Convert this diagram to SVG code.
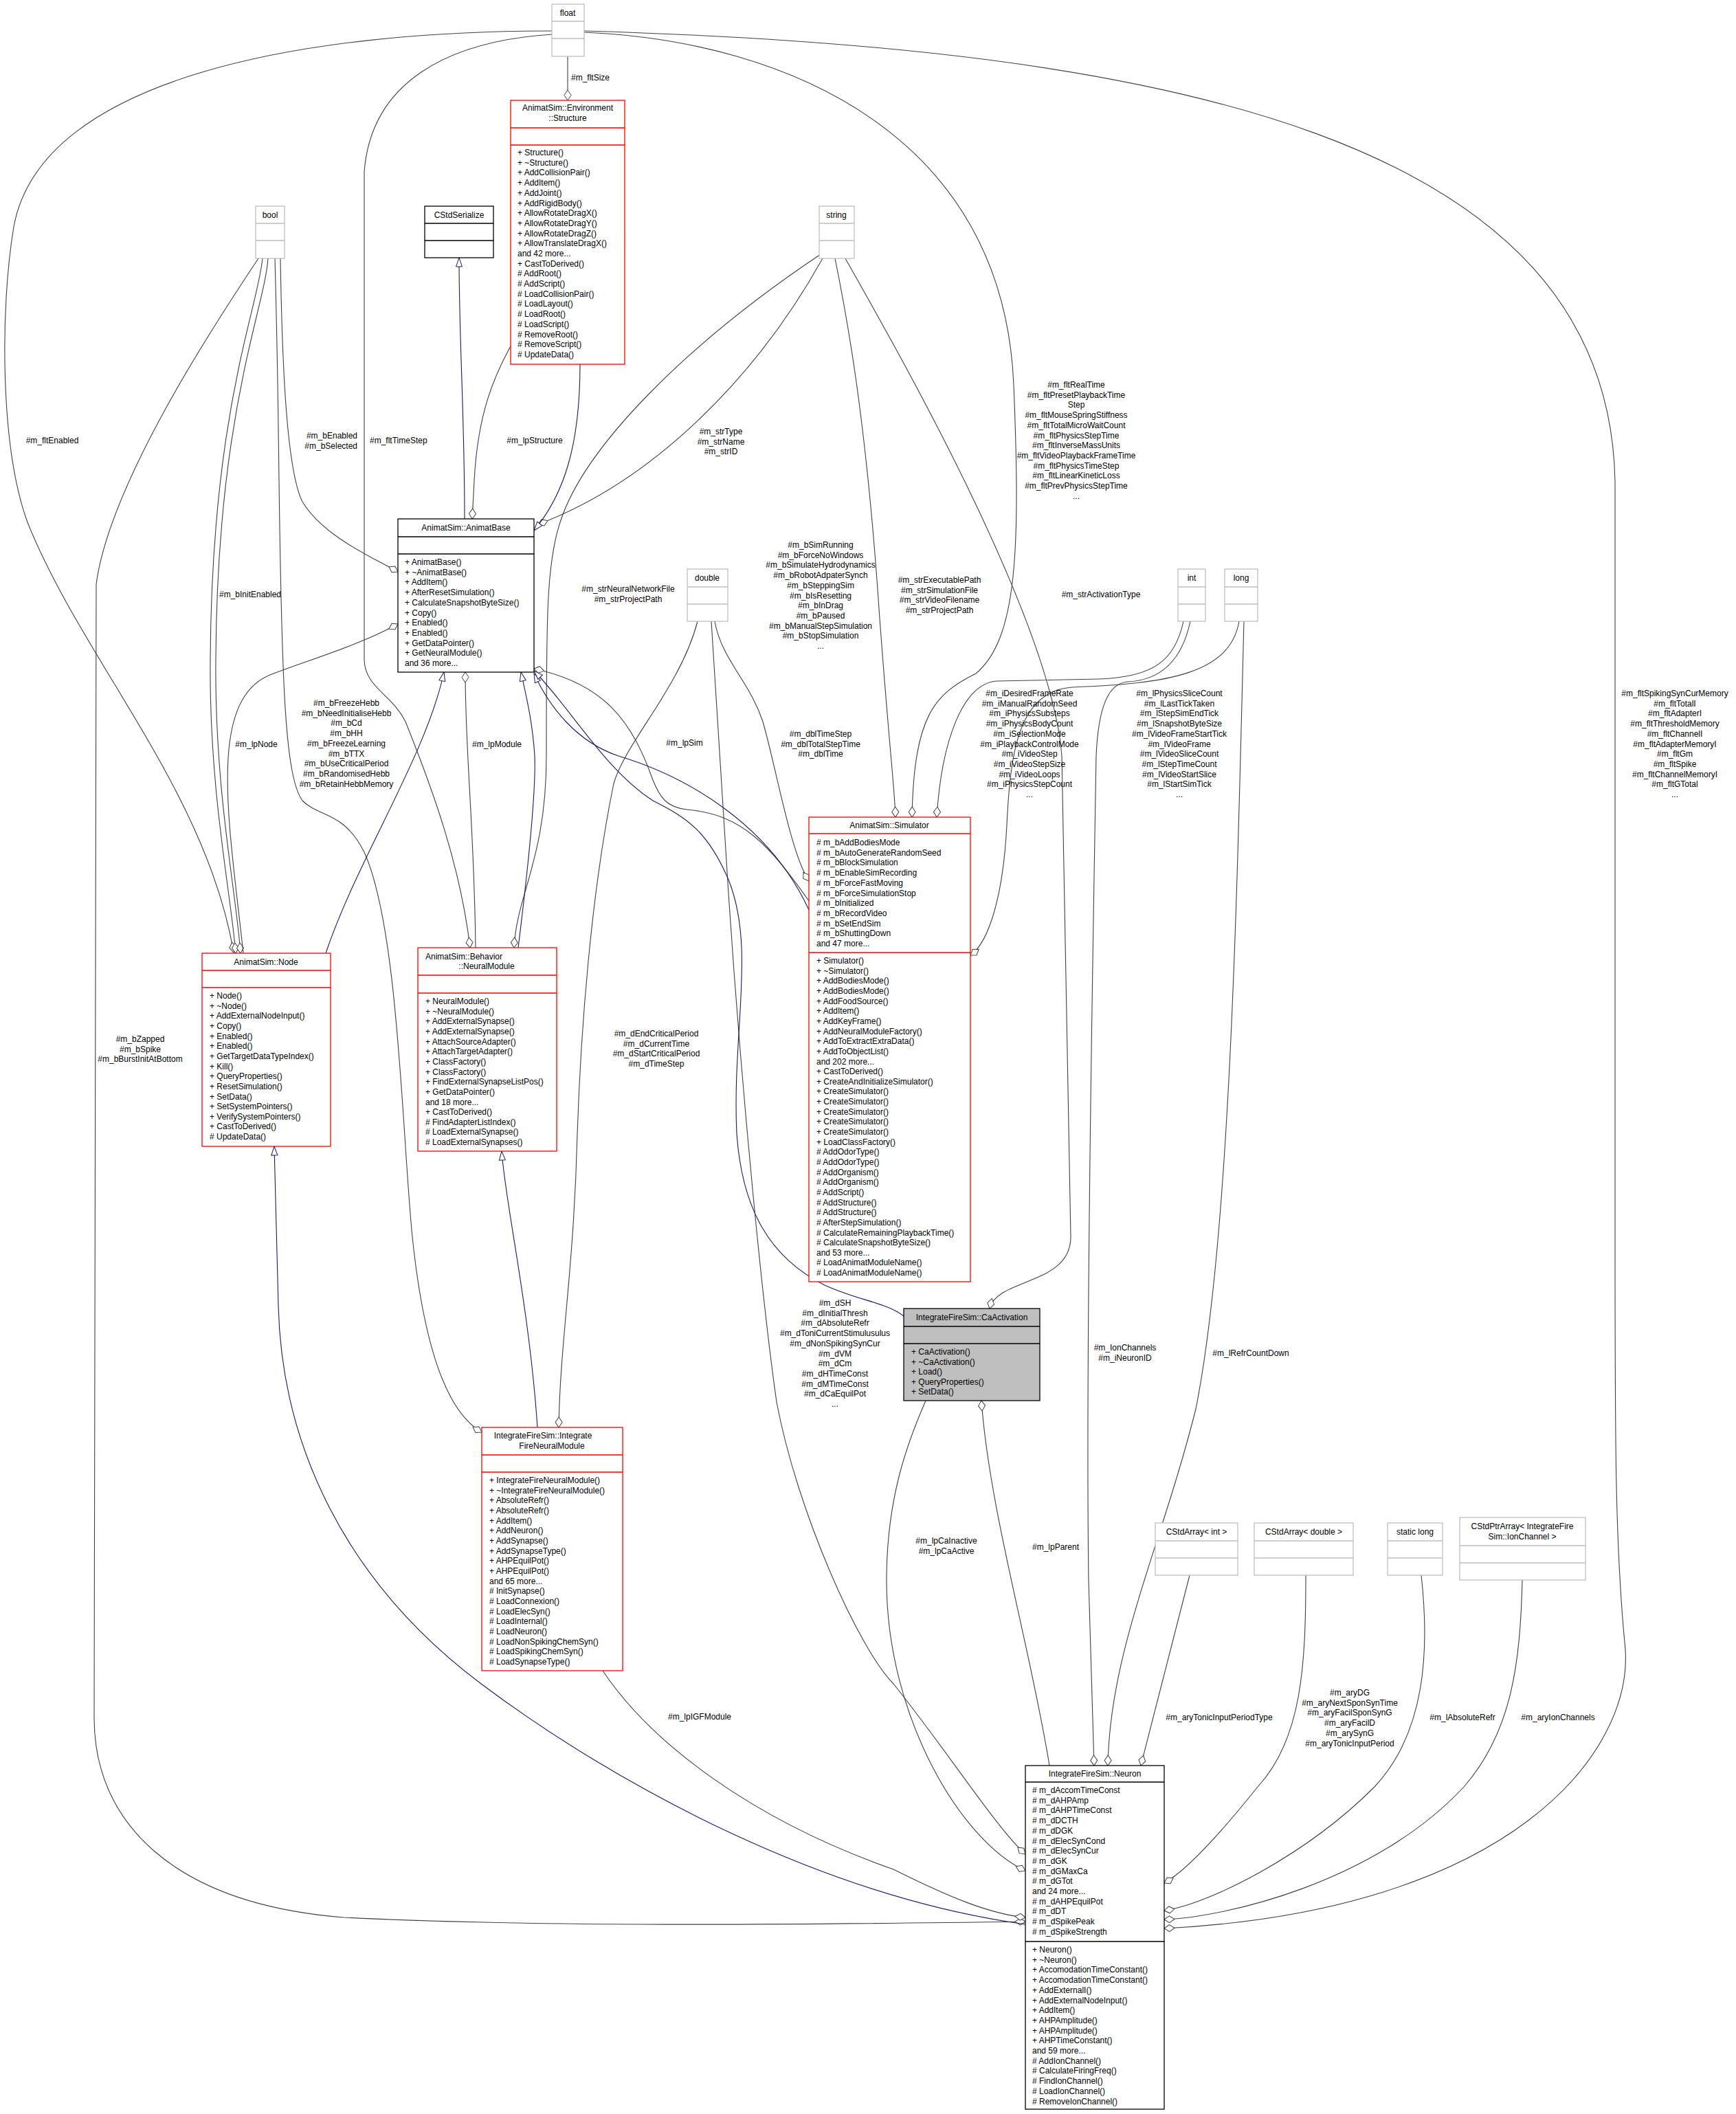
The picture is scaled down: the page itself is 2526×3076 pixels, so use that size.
<svg xmlns="http://www.w3.org/2000/svg" width="2526" height="3076" viewBox="0 0 2526 3076">
<style>
text{font-family:"Liberation Sans",Arial,sans-serif;font-size:12px;fill:#000}
.c{text-anchor:middle}
.r{text-anchor:end}
.red{fill:#fff;stroke:#ff0000;stroke-width:1.3}
.blk{fill:#fff;stroke:#000;stroke-width:1.3}
.gry{fill:#fff;stroke:#bfbfbf;stroke-width:1.3}
.sel{fill:#bfbfbf;stroke:#000;stroke-width:1.3}
.e{fill:none;stroke:#404040;stroke-width:1.1;marker-end:url(#dia)}
.b{fill:none;stroke:#191970;stroke-width:1.1;marker-end:url(#tri)}
</style>
<defs>
<marker id="dia" viewBox="0 0 17 12" refX="16" refY="6" markerWidth="17" markerHeight="12" markerUnits="userSpaceOnUse" orient="auto"><path d="M1,6 L8.5,1 L16,6 L8.5,11 Z" fill="#fff" stroke="#404040"/></marker>
<marker id="tri" viewBox="0 0 15 11" refX="14" refY="5.5" markerWidth="15" markerHeight="11" markerUnits="userSpaceOnUse" orient="auto"><path d="M1,1 L14,5.5 L1,10 Z" fill="#fff" stroke="#191970"/></marker>
</defs>
<rect width="2526" height="3076" fill="#fff"/>

<g id="connectors">
<path class="e" d="M826,82 L826,146"/>
<path class="e" d="M803,45 C450,45 60,110 20,330 C0,450 0,650 40,760 C120,960 300,1150 340,1386"/>
<path class="e" d="M803,50 C650,60 540,120 530,250 L530,960 C531,1000 570,1010 590,1050 C630,1150 670,1260 684,1379"/>
<path class="e" d="M850,47 C1150,60 1460,200 1475,560 C1485,800 1480,930 1420,980 C1360,1010 1330,1040 1327,1189"/>
<path class="e" d="M850,45 C1700,70 2340,200 2350,700 L2350,1800 C2350,2100 2350,2250 2365,2400 C2375,2550 2200,2780 1694,2806"/>
<path class="e" d="M382,376 C375,450 308,600 306,960 C304,1150 336,1300 343,1387"/>
<path class="e" d="M390,376 C385,450 316,600 314,960 C312,1150 344,1300 350,1387"/>
<path class="e" d="M408,376 C410,500 415,680 440,730 C470,780 540,810 579,832"/>
<path class="e" d="M400,376 C402,450 404,520 406,700 C410,1000 415,1130 440,1165 C465,1190 500,1180 530,1240 C580,1350 585,1650 600,1800 C620,1990 660,2060 701,2084"/>
<path class="e" d="M376,376 C320,460 160,700 140,850 L137,2500 C137,2650 250,2770 500,2790 C800,2805 1200,2800 1492,2796"/>
<path class="e" d="M1230,376 C1300,500 1530,900 1545,1100 L1558,1800 C1558,1870 1450,1860 1440,1904"/>
<path class="e" d="M1215,376 C1230,450 1260,600 1280,900 C1295,1100 1302,1150 1303,1189"/>
<path class="e" d="M1197,376 C1100,550 950,700 783,763"/>
<path class="e" d="M1194,370 C1000,500 850,650 815,760 C795,820 795,900 795,1100 C795,1250 752,1300 748,1379"/>
<path class="e" d="M745,500 C720,545 695,600 690,700 L687,755"/>
<path class="e" d="M354,1387 C334,1200 300,1020 393,982 C450,960 520,940 579,908"/>
<path class="e" d="M692,1379 C690,1200 677,1100 677,978"/>
<path class="e" d="M1177,1311 C1120,1230 1080,1185 1000,1178 C970,1175 960,1160 950,1135 C920,1050 880,995 777,973"/>
<path class="e" d="M1040,904 C1050,960 1090,990 1110,1050 C1130,1120 1150,1240 1177,1282"/>
<path class="e" d="M1015,904 C990,1000 910,1080 893,1140 C860,1300 845,1500 840,1650 C835,1850 815,1950 813,2077"/>
<path class="e" d="M1035,904 C1040,1000 1048,1100 1060,1300 C1080,1600 1110,1900 1130,2040 C1160,2200 1250,2400 1300,2450 C1380,2550 1450,2660 1492,2698"/>
<path class="e" d="M1722,904 C1710,960 1680,985 1600,988 L1450,991 C1400,995 1370,1080 1363,1189"/>
<path class="e" d="M1732,904 C1720,960 1690,990 1640,992 C1612,995 1598,1030 1595,1100 C1588,1500 1580,2000 1584,2300 L1592,2569"/>
<path class="e" d="M1803,904 C1790,980 1700,995 1560,1000 C1480,1005 1470,1100 1465,1200 C1460,1300 1440,1370 1412,1390"/>
<path class="e" d="M1810,904 C1800,1300 1790,1800 1740,2050 C1690,2250 1615,2400 1612,2569"/>
<path class="e" d="M1347,2038 C1320,2100 1290,2180 1290,2300 C1290,2500 1400,2680 1492,2722"/>
<path class="e" d="M1527,2569 C1500,2400 1440,2200 1428,2038"/>
<path class="e" d="M877,2431 C950,2540 1100,2650 1300,2720 C1380,2760 1440,2785 1492,2790"/>
<path class="e" d="M1731,2292 L1660,2569"/>
<path class="e" d="M1900,2292 C1900,2420 1895,2530 1830,2600 C1790,2650 1730,2720 1694,2740"/>
<path class="e" d="M2068,2292 C2080,2400 2075,2520 2000,2600 C1900,2700 1760,2770 1694,2780"/>
<path class="e" d="M2215,2299 C2212,2420 2200,2520 2130,2600 C2000,2740 1780,2790 1694,2793"/>
<path class="b" d="M676,755 C676,600 668,500 668,375"/>
<path class="b" d="M844,530 C844,650 820,720 777,772"/>
<path class="b" d="M474,1387 C520,1250 620,1100 646,978"/>
<path class="b" d="M754,1379 C770,1250 780,1150 778,1100 C775,1050 765,1010 758,978"/>
<path class="b" d="M1177,1324 C1120,1200 1000,1130 900,1100 C840,1080 800,1030 777,980"/>
<path class="b" d="M1315,1915 C1290,1895 1250,1893 1200,1870 C1120,1830 1080,1760 1072,1650 C1065,1500 1100,1380 1060,1280 C1030,1210 1000,1190 950,1165 C880,1120 830,1030 777,976"/>
<path class="b" d="M1492,2800 C1200,2760 900,2600 700,2450 C500,2300 410,2100 405,1900 L399,1668"/>
<path class="b" d="M782,2077 C770,1900 735,1750 730,1675"/>

<text x="831" y="117">#m_fltSize</text>
<text class="c" x="76" y="645">#m_fltEnabled</text>
<text x="538" y="645">#m_fltTimeStep</text>
<text class="r" x="520" y="638">#m_bEnabled<tspan x="520" dy="14.7">#m_bSelected</tspan></text>
<text class="c" x="778" y="645">#m_lpStructure</text>
<text class="c" x="1049" y="632">#m_strType<tspan x="1049" dy="14.7">#m_strName</tspan><tspan x="1049" dy="14.7">#m_strID</tspan></text>
<text class="c" x="364" y="869">#m_bInitEnabled</text>
<text class="c" x="914" y="861">#m_strNeuralNetworkFile<tspan x="914" dy="14.7">#m_strProjectPath</tspan></text>
<text class="c" x="504" y="1027">#m_bFreezeHebb<tspan x="504" dy="14.7">#m_bNeedInitialiseHebb</tspan><tspan x="504" dy="14.7">#m_bCd</tspan><tspan x="504" dy="14.7">#m_bHH</tspan><tspan x="504" dy="14.7">#m_bFreezeLearning</tspan><tspan x="504" dy="14.7">#m_bTTX</tspan><tspan x="504" dy="14.7">#m_bUseCriticalPeriod</tspan><tspan x="504" dy="14.7">#m_bRandomisedHebb</tspan><tspan x="504" dy="14.7">#m_bRetainHebbMemory</tspan></text>
<text class="c" x="373" y="1087">#m_lpNode</text>
<text class="c" x="723" y="1087">#m_lpModule</text>
<text class="c" x="996" y="1085">#m_lpSim</text>
<text class="c" x="204" y="1516">#m_bZapped<tspan x="204" dy="14.7">#m_bSpike</tspan><tspan x="204" dy="14.7">#m_bBurstInitAtBottom</tspan></text>
<text class="c" x="1566" y="564">#m_fltRealTime<tspan x="1566" dy="14.7">#m_fltPresetPlaybackTime</tspan><tspan x="1566" dy="14.7">Step</tspan><tspan x="1566" dy="14.7">#m_fltMouseSpringStiffness</tspan><tspan x="1566" dy="14.7">#m_fltTotalMicroWaitCount</tspan><tspan x="1566" dy="14.7">#m_fltPhysicsStepTime</tspan><tspan x="1566" dy="14.7">#m_fltInverseMassUnits</tspan><tspan x="1566" dy="14.7">#m_fltVideoPlaybackFrameTime</tspan><tspan x="1566" dy="14.7">#m_fltPhysicsTimeStep</tspan><tspan x="1566" dy="14.7">#m_fltLinearKineticLoss</tspan><tspan x="1566" dy="14.7">#m_fltPrevPhysicsStepTime</tspan><tspan x="1566" dy="14.7">...</tspan></text>
<text class="c" x="1194" y="797">#m_bSimRunning<tspan x="1194" dy="14.7">#m_bForceNoWindows</tspan><tspan x="1194" dy="14.7">#m_bSimulateHydrodynamics</tspan><tspan x="1194" dy="14.7">#m_bRobotAdpaterSynch</tspan><tspan x="1194" dy="14.7">#m_bSteppingSim</tspan><tspan x="1194" dy="14.7">#m_bIsResetting</tspan><tspan x="1194" dy="14.7">#m_bInDrag</tspan><tspan x="1194" dy="14.7">#m_bPaused</tspan><tspan x="1194" dy="14.7">#m_bManualStepSimulation</tspan><tspan x="1194" dy="14.7">#m_bStopSimulation</tspan><tspan x="1194" dy="14.7">...</tspan></text>
<text class="c" x="1367" y="848">#m_strExecutablePath<tspan x="1367" dy="14.7">#m_strSimulationFile</tspan><tspan x="1367" dy="14.7">#m_strVideoFilename</tspan><tspan x="1367" dy="14.7">#m_strProjectPath</tspan></text>
<text class="c" x="1602" y="869">#m_strActivationType</text>
<text class="c" x="1194" y="1072">#m_dblTimeStep<tspan x="1194" dy="14.7">#m_dblTotalStepTime</tspan><tspan x="1194" dy="14.7">#m_dblTime</tspan></text>
<text class="c" x="1498" y="1013">#m_iDesiredFrameRate<tspan x="1498" dy="14.7">#m_iManualRandomSeed</tspan><tspan x="1498" dy="14.7">#m_iPhysicsSubsteps</tspan><tspan x="1498" dy="14.7">#m_iPhysicsBodyCount</tspan><tspan x="1498" dy="14.7">#m_iSelectionMode</tspan><tspan x="1498" dy="14.7">#m_iPlaybackControlMode</tspan><tspan x="1498" dy="14.7">#m_iVideoStep</tspan><tspan x="1498" dy="14.7">#m_iVideoStepSize</tspan><tspan x="1498" dy="14.7">#m_iVideoLoops</tspan><tspan x="1498" dy="14.7">#m_iPhysicsStepCount</tspan><tspan x="1498" dy="14.7">...</tspan></text>
<text class="c" x="1716" y="1013">#m_lPhysicsSliceCount<tspan x="1716" dy="14.7">#m_lLastTickTaken</tspan><tspan x="1716" dy="14.7">#m_lStepSimEndTick</tspan><tspan x="1716" dy="14.7">#m_lSnapshotByteSize</tspan><tspan x="1716" dy="14.7">#m_lVideoFrameStartTick</tspan><tspan x="1716" dy="14.7">#m_lVideoFrame</tspan><tspan x="1716" dy="14.7">#m_lVideoSliceCount</tspan><tspan x="1716" dy="14.7">#m_lStepTimeCount</tspan><tspan x="1716" dy="14.7">#m_lVideoStartSlice</tspan><tspan x="1716" dy="14.7">#m_lStartSimTick</tspan><tspan x="1716" dy="14.7">...</tspan></text>
<text class="c" x="2437" y="1013">#m_fltSpikingSynCurMemory<tspan x="2437" dy="14.7">#m_fltTotalI</tspan><tspan x="2437" dy="14.7">#m_fltAdapterI</tspan><tspan x="2437" dy="14.7">#m_fltThresholdMemory</tspan><tspan x="2437" dy="14.7">#m_fltChannelI</tspan><tspan x="2437" dy="14.7">#m_fltAdapterMemoryI</tspan><tspan x="2437" dy="14.7">#m_fltGm</tspan><tspan x="2437" dy="14.7">#m_fltSpike</tspan><tspan x="2437" dy="14.7">#m_fltChannelMemoryI</tspan><tspan x="2437" dy="14.7">#m_fltGTotal</tspan><tspan x="2437" dy="14.7">...</tspan></text>
<text class="c" x="955" y="1508">#m_dEndCriticalPeriod<tspan x="955" dy="14.7">#m_dCurrentTime</tspan><tspan x="955" dy="14.7">#m_dStartCriticalPeriod</tspan><tspan x="955" dy="14.7">#m_dTimeStep</tspan></text>
<text class="c" x="1215" y="1900">#m_dSH<tspan x="1215" dy="14.7">#m_dInitialThresh</tspan><tspan x="1215" dy="14.7">#m_dAbsoluteRefr</tspan><tspan x="1215" dy="14.7">#m_dToniCurrentStimulusulus</tspan><tspan x="1215" dy="14.7">#m_dNonSpikingSynCur</tspan><tspan x="1215" dy="14.7">#m_dVM</tspan><tspan x="1215" dy="14.7">#m_dCm</tspan><tspan x="1215" dy="14.7">#m_dHTimeConst</tspan><tspan x="1215" dy="14.7">#m_dMTimeConst</tspan><tspan x="1215" dy="14.7">#m_dCaEquilPot</tspan><tspan x="1215" dy="14.7">...</tspan></text>
<text class="c" x="1637" y="1965">#m_IonChannels<tspan x="1637" dy="14.7">#m_iNeuronID</tspan></text>
<text class="c" x="1820" y="1973">#m_lRefrCountDown</text>
<text class="c" x="1377" y="2246">#m_lpCaInactive<tspan x="1377" dy="14.7">#m_lpCaActive</tspan></text>
<text class="c" x="1536" y="2255">#m_lpParent</text>
<text class="c" x="1018" y="2502">#m_lpIGFModule</text>
<text class="c" x="1774" y="2503">#m_aryTonicInputPeriodType</text>
<text class="c" x="1964" y="2467">#m_aryDG<tspan x="1964" dy="14.7">#m_aryNextSponSynTime</tspan><tspan x="1964" dy="14.7">#m_aryFacilSponSynG</tspan><tspan x="1964" dy="14.7">#m_aryFacilD</tspan><tspan x="1964" dy="14.7">#m_arySynG</tspan><tspan x="1964" dy="14.7">#m_aryTonicInputPeriod</tspan></text>
<text class="c" x="2128" y="2503">#m_lAbsoluteRefr</text>
<text class="c" x="2267" y="2503">#m_aryIonChannels</text>
</g>

<g id="float"><rect class="gry" x="803" y="6" width="47" height="76"/><path class="gry" d="M803,31 H850 M803,56 H850"/><text class="c" x="826" y="23">float</text></g>
<g id="bool"><rect class="gry" x="372" y="300" width="42" height="76"/><path class="gry" d="M372,325 H414 M372,350 H414"/><text class="c" x="393" y="317">bool</text></g>
<g id="string"><rect class="gry" x="1192" y="300" width="51" height="76"/><path class="gry" d="M1192,325 H1243 M1192,350 H1243"/><text class="c" x="1217" y="317">string</text></g>
<g id="CStdSerialize"><rect class="blk" x="618" y="300" width="100" height="75"/><path class="blk" d="M618,325 H718 M618,350 H718"/><text class="c" x="668" y="317">CStdSerialize</text></g>
<g id="double"><rect class="gry" x="1000" y="828" width="59" height="76"/><path class="gry" d="M1000,854 H1059 M1000,879 H1059"/><text class="c" x="1029" y="845">double</text></g>
<g id="int"><rect class="gry" x="1714" y="828" width="40" height="76"/><path class="gry" d="M1714,854 H1754 M1714,879 H1754"/><text class="c" x="1734" y="845">int</text></g>
<g id="long"><rect class="gry" x="1782" y="828" width="48" height="76"/><path class="gry" d="M1782,854 H1830 M1782,879 H1830"/><text class="c" x="1806" y="845">long</text></g>

<g id="Structure"><rect class="red" x="743" y="146" width="166" height="384"/><path class="red" d="M743,186 H909 M743,211 H909"/>
<text class="c" x="826" y="161">AnimatSim::Environment<tspan x="826" dy="14.7">::Structure</tspan></text>
<text x="753" y="226">+ Structure()<tspan x="753" dy="14.7">+ ~Structure()</tspan><tspan x="753" dy="14.7">+ AddCollisionPair()</tspan><tspan x="753" dy="14.7">+ AddItem()</tspan><tspan x="753" dy="14.7">+ AddJoint()</tspan><tspan x="753" dy="14.7">+ AddRigidBody()</tspan><tspan x="753" dy="14.7">+ AllowRotateDragX()</tspan><tspan x="753" dy="14.7">+ AllowRotateDragY()</tspan><tspan x="753" dy="14.7">+ AllowRotateDragZ()</tspan><tspan x="753" dy="14.7">+ AllowTranslateDragX()</tspan><tspan x="753" dy="14.7">and 42 more...</tspan><tspan x="753" dy="14.7">+ CastToDerived()</tspan><tspan x="753" dy="14.7"># AddRoot()</tspan><tspan x="753" dy="14.7"># AddScript()</tspan><tspan x="753" dy="14.7"># LoadCollisionPair()</tspan><tspan x="753" dy="14.7"># LoadLayout()</tspan><tspan x="753" dy="14.7"># LoadRoot()</tspan><tspan x="753" dy="14.7"># LoadScript()</tspan><tspan x="753" dy="14.7"># RemoveRoot()</tspan><tspan x="753" dy="14.7"># RemoveScript()</tspan><tspan x="753" dy="14.7"># UpdateData()</tspan></text></g>

<g id="AnimatBase"><rect class="blk" x="579" y="755" width="198" height="223"/><path class="blk" d="M579,781 H777 M579,806 H777"/>
<text class="c" x="678" y="772">AnimatSim::AnimatBase</text>
<text x="589" y="822">+ AnimatBase()<tspan x="589" dy="14.7">+ ~AnimatBase()</tspan><tspan x="589" dy="14.7">+ AddItem()</tspan><tspan x="589" dy="14.7">+ AfterResetSimulation()</tspan><tspan x="589" dy="14.7">+ CalculateSnapshotByteSize()</tspan><tspan x="589" dy="14.7">+ Copy()</tspan><tspan x="589" dy="14.7">+ Enabled()</tspan><tspan x="589" dy="14.7">+ Enabled()</tspan><tspan x="589" dy="14.7">+ GetDataPointer()</tspan><tspan x="589" dy="14.7">+ GetNeuralModule()</tspan><tspan x="589" dy="14.7">and 36 more...</tspan></text></g>

<g id="Simulator"><rect class="red" x="1177" y="1189" width="235" height="676"/><path class="red" d="M1177,1213 H1412 M1177,1386 H1412"/>
<text class="c" x="1294" y="1205">AnimatSim::Simulator</text>
<text x="1188" y="1230"># m_bAddBodiesMode<tspan x="1188" dy="14.7"># m_bAutoGenerateRandomSeed</tspan><tspan x="1188" dy="14.7"># m_bBlockSimulation</tspan><tspan x="1188" dy="14.7"># m_bEnableSimRecording</tspan><tspan x="1188" dy="14.7"># m_bForceFastMoving</tspan><tspan x="1188" dy="14.7"># m_bForceSimulationStop</tspan><tspan x="1188" dy="14.7"># m_bInitialized</tspan><tspan x="1188" dy="14.7"># m_bRecordVideo</tspan><tspan x="1188" dy="14.7"># m_bSetEndSim</tspan><tspan x="1188" dy="14.7"># m_bShuttingDown</tspan><tspan x="1188" dy="14.7">and 47 more...</tspan></text>
<text x="1188" y="1402">+ Simulator()<tspan x="1188" dy="14.65">+ ~Simulator()</tspan><tspan x="1188" dy="14.65">+ AddBodiesMode()</tspan><tspan x="1188" dy="14.65">+ AddBodiesMode()</tspan><tspan x="1188" dy="14.65">+ AddFoodSource()</tspan><tspan x="1188" dy="14.65">+ AddItem()</tspan><tspan x="1188" dy="14.65">+ AddKeyFrame()</tspan><tspan x="1188" dy="14.65">+ AddNeuralModuleFactory()</tspan><tspan x="1188" dy="14.65">+ AddToExtractExtraData()</tspan><tspan x="1188" dy="14.65">+ AddToObjectList()</tspan><tspan x="1188" dy="14.65">and 202 more...</tspan><tspan x="1188" dy="14.65">+ CastToDerived()</tspan><tspan x="1188" dy="14.65">+ CreateAndInitializeSimulator()</tspan><tspan x="1188" dy="14.65">+ CreateSimulator()</tspan><tspan x="1188" dy="14.65">+ CreateSimulator()</tspan><tspan x="1188" dy="14.65">+ CreateSimulator()</tspan><tspan x="1188" dy="14.65">+ CreateSimulator()</tspan><tspan x="1188" dy="14.65">+ CreateSimulator()</tspan><tspan x="1188" dy="14.65">+ LoadClassFactory()</tspan><tspan x="1188" dy="14.65"># AddOdorType()</tspan><tspan x="1188" dy="14.65"># AddOdorType()</tspan><tspan x="1188" dy="14.65"># AddOrganism()</tspan><tspan x="1188" dy="14.65"># AddOrganism()</tspan><tspan x="1188" dy="14.65"># AddScript()</tspan><tspan x="1188" dy="14.65"># AddStructure()</tspan><tspan x="1188" dy="14.65"># AddStructure()</tspan><tspan x="1188" dy="14.65"># AfterStepSimulation()</tspan><tspan x="1188" dy="14.65"># CalculateRemainingPlaybackTime()</tspan><tspan x="1188" dy="14.65"># CalculateSnapshotByteSize()</tspan><tspan x="1188" dy="14.65">and 53 more...</tspan><tspan x="1188" dy="14.65"># LoadAnimatModuleName()</tspan><tspan x="1188" dy="14.65"># LoadAnimatModuleName()</tspan></text></g>

<g id="Node"><rect class="red" x="294" y="1387" width="187" height="281"/><path class="red" d="M294,1412 H481 M294,1437 H481"/>
<text class="c" x="387" y="1404">AnimatSim::Node</text>
<text x="305" y="1453">+ Node()<tspan x="305" dy="14.65">+ ~Node()</tspan><tspan x="305" dy="14.65">+ AddExternalNodeInput()</tspan><tspan x="305" dy="14.65">+ Copy()</tspan><tspan x="305" dy="14.65">+ Enabled()</tspan><tspan x="305" dy="14.65">+ Enabled()</tspan><tspan x="305" dy="14.65">+ GetTargetDataTypeIndex()</tspan><tspan x="305" dy="14.65">+ Kill()</tspan><tspan x="305" dy="14.65">+ QueryProperties()</tspan><tspan x="305" dy="14.65">+ ResetSimulation()</tspan><tspan x="305" dy="14.65">+ SetData()</tspan><tspan x="305" dy="14.65">+ SetSystemPointers()</tspan><tspan x="305" dy="14.65">+ VerifySystemPointers()</tspan><tspan x="305" dy="14.65">+ CastToDerived()</tspan><tspan x="305" dy="14.65"># UpdateData()</tspan></text></g>

<g id="NeuralModule"><rect class="red" x="608" y="1379" width="202" height="296"/><path class="red" d="M608,1419 H810 M608,1445 H810"/>
<text x="619" y="1396">AnimatSim::Behavior</text><text class="c" x="708" y="1410">::NeuralModule</text>
<text x="619" y="1461">+ NeuralModule()<tspan x="619" dy="14.65">+ ~NeuralModule()</tspan><tspan x="619" dy="14.65">+ AddExternalSynapse()</tspan><tspan x="619" dy="14.65">+ AddExternalSynapse()</tspan><tspan x="619" dy="14.65">+ AttachSourceAdapter()</tspan><tspan x="619" dy="14.65">+ AttachTargetAdapter()</tspan><tspan x="619" dy="14.65">+ ClassFactory()</tspan><tspan x="619" dy="14.65">+ ClassFactory()</tspan><tspan x="619" dy="14.65">+ FindExternalSynapseListPos()</tspan><tspan x="619" dy="14.65">+ GetDataPointer()</tspan><tspan x="619" dy="14.65">and 18 more...</tspan><tspan x="619" dy="14.65">+ CastToDerived()</tspan><tspan x="619" dy="14.65"># FindAdapterListIndex()</tspan><tspan x="619" dy="14.65"># LoadExternalSynapse()</tspan><tspan x="619" dy="14.65"># LoadExternalSynapses()</tspan></text></g>

<g id="CaActivation"><rect class="sel" x="1315" y="1904" width="198" height="134"/><path class="sel" d="M1315,1930 H1513 M1315,1955 H1513"/>
<text class="c" x="1414" y="1921">IntegrateFireSim::CaActivation</text>
<text x="1326" y="1971">+ CaActivation()<tspan x="1326" dy="14.5">+ ~CaActivation()</tspan><tspan x="1326" dy="14.5">+ Load()</tspan><tspan x="1326" dy="14.5">+ QueryProperties()</tspan><tspan x="1326" dy="14.5">+ SetData()</tspan></text></g>

<g id="IntegrateFireNeuralModule"><rect class="red" x="701" y="2077" width="205" height="354"/><path class="red" d="M701,2117 H906 M701,2142 H906"/>
<text class="c" x="790" y="2093">IntegrateFireSim::Integrate</text><text class="c" x="803" y="2108">FireNeuralModule</text>
<text x="712" y="2158">+ IntegrateFireNeuralModule()<tspan x="712" dy="14.67">+ ~IntegrateFireNeuralModule()</tspan><tspan x="712" dy="14.67">+ AbsoluteRefr()</tspan><tspan x="712" dy="14.67">+ AbsoluteRefr()</tspan><tspan x="712" dy="14.67">+ AddItem()</tspan><tspan x="712" dy="14.67">+ AddNeuron()</tspan><tspan x="712" dy="14.67">+ AddSynapse()</tspan><tspan x="712" dy="14.67">+ AddSynapseType()</tspan><tspan x="712" dy="14.67">+ AHPEquilPot()</tspan><tspan x="712" dy="14.67">+ AHPEquilPot()</tspan><tspan x="712" dy="14.67">and 65 more...</tspan><tspan x="712" dy="14.67"># InitSynapse()</tspan><tspan x="712" dy="14.67"># LoadConnexion()</tspan><tspan x="712" dy="14.67"># LoadElecSyn()</tspan><tspan x="712" dy="14.67"># LoadInternal()</tspan><tspan x="712" dy="14.67"># LoadNeuron()</tspan><tspan x="712" dy="14.67"># LoadNonSpikingChemSyn()</tspan><tspan x="712" dy="14.67"># LoadSpikingChemSyn()</tspan><tspan x="712" dy="14.67"># LoadSynapseType()</tspan></text></g>

<g id="Neuron"><rect class="blk" x="1492" y="2569" width="202" height="500"/><path class="blk" d="M1492,2593 H1694 M1492,2825 H1694"/>
<text class="c" x="1593" y="2585">IntegrateFireSim::Neuron</text>
<text x="1502" y="2609"># m_dAccomTimeConst<tspan x="1502" dy="14.7"># m_dAHPAmp</tspan><tspan x="1502" dy="14.7"># m_dAHPTimeConst</tspan><tspan x="1502" dy="14.7"># m_dDCTH</tspan><tspan x="1502" dy="14.7"># m_dDGK</tspan><tspan x="1502" dy="14.7"># m_dElecSynCond</tspan><tspan x="1502" dy="14.7"># m_dElecSynCur</tspan><tspan x="1502" dy="14.7"># m_dGK</tspan><tspan x="1502" dy="14.7"># m_dGMaxCa</tspan><tspan x="1502" dy="14.7"># m_dGTot</tspan><tspan x="1502" dy="14.7">and 24 more...</tspan><tspan x="1502" dy="14.7"># m_dAHPEquilPot</tspan><tspan x="1502" dy="14.7"># m_dDT</tspan><tspan x="1502" dy="14.7"># m_dSpikePeak</tspan><tspan x="1502" dy="14.7"># m_dSpikeStrength</tspan></text>
<text x="1502" y="2841">+ Neuron()<tspan x="1502" dy="14.7">+ ~Neuron()</tspan><tspan x="1502" dy="14.7">+ AccomodationTimeConstant()</tspan><tspan x="1502" dy="14.7">+ AccomodationTimeConstant()</tspan><tspan x="1502" dy="14.7">+ AddExternalI()</tspan><tspan x="1502" dy="14.7">+ AddExternalNodeInput()</tspan><tspan x="1502" dy="14.7">+ AddItem()</tspan><tspan x="1502" dy="14.7">+ AHPAmplitude()</tspan><tspan x="1502" dy="14.7">+ AHPAmplitude()</tspan><tspan x="1502" dy="14.7">+ AHPTimeConstant()</tspan><tspan x="1502" dy="14.7">and 59 more...</tspan><tspan x="1502" dy="14.7"># AddIonChannel()</tspan><tspan x="1502" dy="14.7"># CalculateFiringFreq()</tspan><tspan x="1502" dy="14.7"># FindIonChannel()</tspan><tspan x="1502" dy="14.7"># LoadIonChannel()</tspan><tspan x="1502" dy="14.7"># RemoveIonChannel()</tspan></text></g>

<g id="CStdArrayInt"><rect class="gry" x="1681" y="2216" width="120" height="76"/><path class="gry" d="M1681,2242 H1801 M1681,2267 H1801"/><text class="c" x="1741" y="2233">CStdArray&lt; int &gt;</text></g>
<g id="CStdArrayDouble"><rect class="gry" x="1825" y="2216" width="144" height="76"/><path class="gry" d="M1825,2242 H1969 M1825,2267 H1969"/><text class="c" x="1897" y="2233">CStdArray&lt; double &gt;</text></g>
<g id="staticLong"><rect class="gry" x="2019" y="2216" width="80" height="76"/><path class="gry" d="M2019,2242 H2099 M2019,2267 H2099"/><text class="c" x="2059" y="2233">static long</text></g>
<g id="CStdPtrArray"><rect class="gry" x="2124" y="2208" width="183" height="91"/><path class="gry" d="M2124,2249 H2307 M2124,2274 H2307"/><text class="c" x="2215" y="2225">CStdPtrArray&lt; IntegrateFire<tspan x="2215" dy="14.7">Sim::IonChannel &gt;</tspan></text></g>
</svg>
